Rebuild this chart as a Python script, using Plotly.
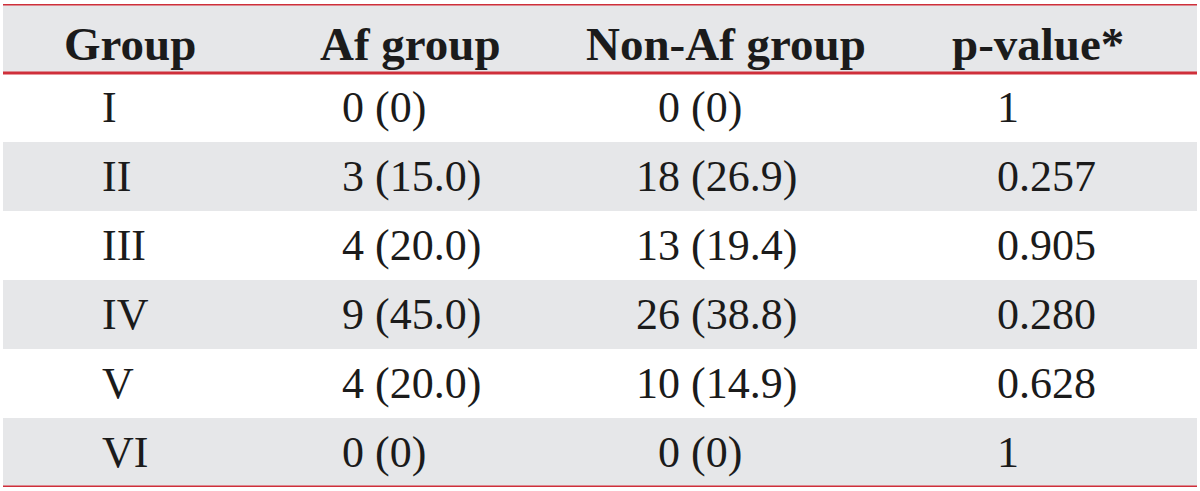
import plotly.graph_objects as go

# ---- data ----
headers = ["Group", "Af group", "Non-Af group", "p-value*"]
groups = ["I", "II", "III", "IV", "V", "VI"]
af_n = [0, 3, 4, 9, 4, 0]
af_pct = ["0", "15.0", "20.0", "45.0", "20.0", "0"]
nonaf_n = [0, 18, 13, 26, 10, 0]
nonaf_pct = ["0", "26.9", "19.4", "38.8", "14.9", "0"]
p_values = ["1", "0.257", "0.905", "0.280", "0.628", "1"]

# ---- style ----
W, H = 1200, 491
RED = "#cf2f3a"
GRAY = "#e6e7e9"
TXT = "#1b1b1b"
BODY_SIZE = 44
HEAD_SIZE = 47
FONT = "Liberation Serif"
x_left, x_right = 3, 1197
head_x = [130, 410, 726, 1038]
body_x = [100, 340, 634, 995]

af_cells = [f"{n} ({p})" for n, p in zip(af_n, af_pct)]
nonaf_cells = [f"{n} ({p})" for n, p in zip(nonaf_n, nonaf_pct)]
columns = [groups, af_cells, nonaf_cells, p_values]

n_rows = len(groups)
fig = go.Figure()

shapes = []
# header band and alternating row bands
shapes.append(dict(type="rect", xref="x", yref="y", x0=x_left, x1=x_right,
                   y0=-0.5, y1=0.5, fillcolor=GRAY, line=dict(width=0), layer="below"))
for i in range(n_rows):
    if i % 2 == 1:
        shapes.append(dict(type="rect", xref="x", yref="y", x0=x_left, x1=x_right,
                           y0=i + 0.5, y1=i + 1.5, fillcolor=GRAY,
                           line=dict(width=0), layer="below"))
for yy in [-0.5, 0.5, n_rows + 0.5]:
    shapes.append(dict(type="line", xref="x", yref="y", x0=x_left, x1=x_right,
                       y0=yy, y1=yy, line=dict(color=RED, width=3)))

annotations = []
for h, hx in zip(headers, head_x):
    annotations.append(dict(x=hx, y=0, xref="x", yref="y", text=f"<b>{h}</b>",
                            showarrow=False, xanchor="center", yanchor="middle",
                            yshift=-5,
                            font=dict(family=FONT, size=HEAD_SIZE, color=TXT)))

digit_w = BODY_SIZE * 0.5
max_nonaf_digits = max(len(str(v)) for v in nonaf_n)
for ci, (col, bx) in enumerate(zip(columns, body_x)):
    for ri, val in enumerate(col):
        shift = 0
        if ci == 2:
            shift = digit_w * (max_nonaf_digits - len(str(nonaf_n[ri])))
        annotations.append(dict(x=bx, y=ri + 1, xref="x", yref="y", text=val,
                                showarrow=False, xanchor="left", yanchor="middle",
                                xshift=shift,
                                font=dict(family=FONT, size=BODY_SIZE, color=TXT)))

fig.update_layout(
    width=W, height=H,
    margin=dict(l=0, r=0, t=4, b=4),
    paper_bgcolor="white", plot_bgcolor="white",
    xaxis=dict(range=[0, W], visible=False, fixedrange=True),
    yaxis=dict(range=[n_rows + 0.5, -0.5], visible=False, fixedrange=True),
    shapes=shapes, annotations=annotations, showlegend=False,
)
fig.write_html("out.html", config={"displayModeBar": False},
               post_script="document.body.style.margin='0';"
                           "document.body.style.overflow='hidden';")
